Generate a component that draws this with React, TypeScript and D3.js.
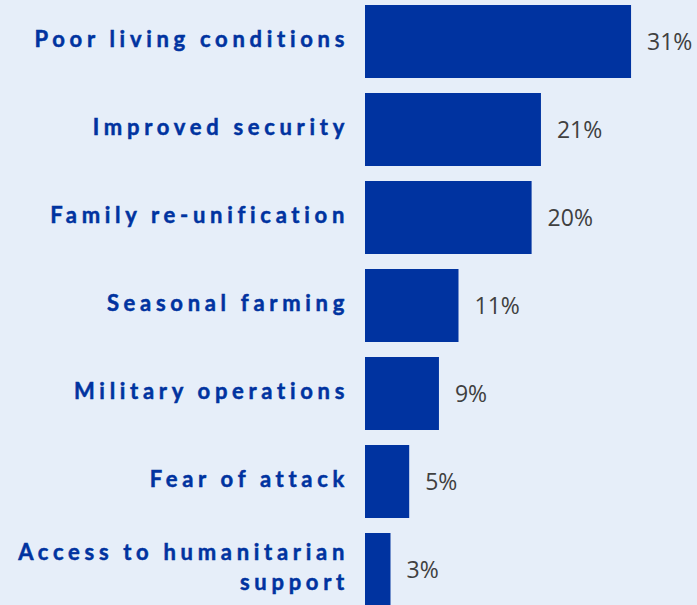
import React from 'react';
import * as d3 from 'd3';

const categories = [
  'Poor living conditions',
  'Improved security',
  'Family re-unification',
  'Seasonal farming',
  'Military operations',
  'Fear of attack',
  'Access to humanitarian support',
];
const shares = [31.3, 20.7, 19.6, 11.0, 8.7, 5.2, 3.0];
const valueLabels = ['31%', '21%', '20%', '11%', '9%', '5%', '3%'];
// long labels broken over two lines, as in the source
const labelLines: string[][] = [
  ['Poor living conditions'],
  ['Improved security'],
  ['Family re-unification'],
  ['Seasonal farming'],
  ['Military operations'],
  ['Fear of attack'],
  ['Access to humanitarian', 'support'],
];

const W = 697;
const H = 605;

const App: React.FC = () => {
  const x = d3.scaleLinear().domain([0, 1]).range([365, 373.5]);
  const y = d3.scaleBand<string>()
    .domain(categories)
    .range([5, 606])
    .paddingInner(15 / 88)
    .paddingOuter(0);

  return (
    <div style={{ position: 'absolute', left: 0, top: 0, width: W, height: H, background: '#e6eef9' }}>
      <svg width={W} height={H} style={{ display: 'block' }}>
        <rect width={W} height={H} fill="#e6eef9" />
        {categories.map((c, i) => {
          const y0 = y(c)!;
          const cy = y0 + y.bandwidth() / 2 - 2;
          const lines = labelLines[i];
          return (
            <g key={c}>
              <rect x={x(0)} y={y0} width={x(shares[i]) - x(0)} height={y.bandwidth()} fill="#0033a0" />
              <text
                x={x(shares[i]) + 16}
                y={y0 + y.bandwidth() / 2}
                dy="0.35em"
                fill="#404040"
                fontFamily="'Open Sans', sans-serif"
                fontSize={23}
              >
                {valueLabels[i]}
              </text>
              <text
                textAnchor="end"
                fill="#0033a0"
                stroke="#0033a0"
                strokeWidth={0.5}
                fontFamily="Lato, sans-serif"
                fontWeight={700}
                fontSize={22}
                letterSpacing={4.7}
              >
                {lines.map((l, j) => (
                  <tspan key={j} x={349} y={cy + (j - (lines.length - 1) / 2) * 30} dy="0.35em">
                    {l}
                  </tspan>
                ))}
              </text>
            </g>
          );
        })}
      </svg>
    </div>
  );
};

export default App;
